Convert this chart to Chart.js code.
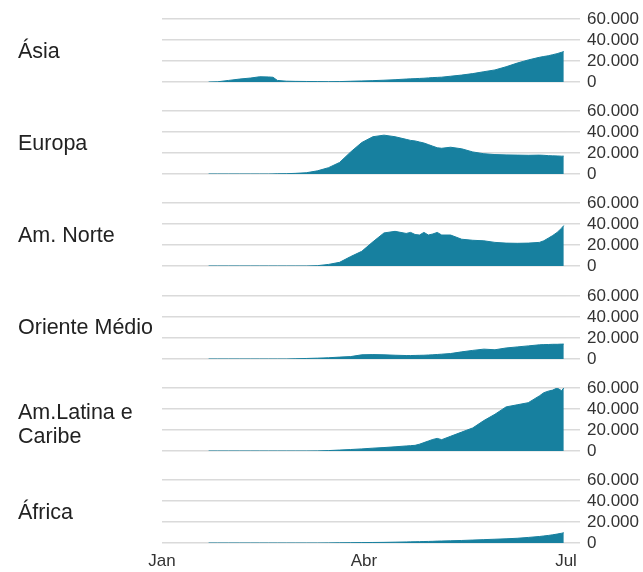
<!DOCTYPE html>
<html>
<head>
<meta charset="utf-8">
<script src="https://cdn.jsdelivr.net/npm/chart.js@4"></script>
<style>
  html, body { margin: 0; padding: 0; background: #fff; }
  body { width: 643px; height: 572px; position: relative; overflow: hidden;
         font-family: "Liberation Sans", Arial, Helvetica, sans-serif; }
  canvas { position: absolute; left: 0; }
  .lbl { position: absolute; left: 18px; font-size: 21.5px; line-height: 24px; color: #222; }
</style>
</head>
<body>
<script>
// day of year (0 = 1 Jan) for each sample
var days = [21, 25, 30, 35, 40, 44, 48, 50, 52, 56,
            60, 65, 70, 75, 80, 85, 90, 95, 100, 105,
            110, 112, 114, 116, 118, 120, 122, 124, 126, 130,
            135, 140, 145, 150, 155, 160, 165, 170, 172, 174,
            176, 178, 180, 181];

// new cases per day, in thousands
var asia = [0, 0.2, 1.5, 2.8, 3.8, 5, 4.8, 4.5, 1.5, 0.8,
            0.6, 0.5, 0.4, 0.3, 0.4, 0.7, 1.0, 1.3, 1.7, 2.2,
            2.8, 3.0, 3.2, 3.4, 3.6, 3.9, 4.2, 4.4, 4.6, 5.5,
            6.6, 8, 9.8, 11.5, 14.5, 18, 21, 23.5, 24.3, 25,
            26, 27, 28.3, 29];
var europa = [0, 0, 0, 0, 0, 0, 0, 0.1, 0.2, 0.3,
              0.6, 1.2, 3, 6, 11, 21, 30, 35.5, 37, 35.5,
              33, 32, 31.5, 30.5, 29.5, 28, 26.5, 25, 24.5, 25.5,
              24, 21, 19.3, 18.5, 18.2, 18, 17.8, 18, 17.8, 17.5,
              17.3, 17.2, 17, 17];
var amNorte = [0, 0, 0, 0, 0, 0, 0, 0, 0, 0,
               0, 0, 0.3, 1.5, 3.5, 9, 14, 23, 31.5, 33,
               31, 32, 30, 29.5, 32, 29.5, 30.5, 32, 29.5, 29.5,
               25.5, 24.5, 24, 22.5, 21.8, 21.6, 21.8, 22.5, 24, 26.5,
               29, 32, 36, 38.5];
var orienteMedio = [0, 0, 0, 0, 0, 0, 0, 0, 0, 0,
                    0.2, 0.5, 0.8, 1.2, 1.8, 2.3, 4, 4.2, 4, 3.6,
                    3.3, 3.3, 3.4, 3.5, 3.6, 3.8, 4, 4.3, 4.6, 5.2,
                    6.8, 8.2, 9.4, 8.8, 10.5, 11.5, 12.5, 13.5, 13.7, 13.8,
                    14, 14, 14.2, 14.2];
var amLatina = [0, 0, 0, 0, 0, 0, 0, 0, 0, 0,
                0, 0, 0.1, 0.4, 0.9, 1.4, 2, 2.7, 3.3, 4,
                4.8, 5.1, 5.4, 6.5, 8, 9.5, 11, 12, 10.8, 14,
                18, 22, 29, 35, 42, 44, 46, 52.5, 55.5, 57,
                58, 60, 57.5, 60];
var africa = [0, 0, 0, 0, 0, 0, 0, 0, 0, 0,
              0, 0, 0, 0.1, 0.2, 0.3, 0.4, 0.5, 0.6, 0.8,
              1, 1.1, 1.2, 1.3, 1.4, 1.5, 1.6, 1.8, 1.9, 2.1,
              2.4, 2.8, 3.2, 3.6, 4, 4.5, 5.3, 6.2, 6.7, 7.2,
              7.8, 8.5, 9.3, 9.8];

var regions = ['Ásia', 'Europa', 'Am. Norte', 'Oriente Médio', 'Am.Latina e\nCaribe', 'África'];
var series = [asia, europa, amNorte, orienteMedio, amLatina, africa];
var yTicks = [0, 20, 40, 60];
var xTicks = [0, 91, 182];
var xLabels = ['Jan', 'Abr', 'Jul'];

var FONT = '"Liberation Sans", Arial, Helvetica, sans-serif';
var TEAL = '#17809f';

function toPoints(vals) {
  var pts = [];
  for (var i = 0; i < days.length; i++) {
    pts.push({x: days[i], y: vals[i]});
  }
  return pts;
}

function fmtTick(v) {
  return v == 0 ? '0' : v + '.000';
}

function makePanel(i) {
  var top = 19 + i * 92.2;      // y of the 60.000 grid line
  var last = i == regions.length - 1;
  var c = document.createElement('canvas');
  var h = last ? 12 + 63 + 29 : 87;
  c.width = 643;
  c.height = h;
  c.style.top = Math.round(top - 12) + 'px';
  document.body.appendChild(c);

  var lbl = document.createElement('div');
  lbl.className = 'lbl';
  var lines = regions[i].split('\n');
  lbl.innerHTML = lines.join('<br>');
  var mid = top + 31.5 + (lines.length > 1 ? 5 : 0);
  lbl.style.top = Math.round(mid - lines.length * 12) + 'px';
  document.body.appendChild(lbl);

  new Chart(c, {
    type: 'line',
    data: {
      datasets: [{
        data: toPoints(series[i]),
        borderColor: TEAL,
        borderWidth: 1,
        backgroundColor: TEAL,
        fill: 'origin',
        pointRadius: 0,
        tension: 0
      }]
    },
    options: {
      responsive: false,
      animation: false,
      devicePixelRatio: 1,
      layout: {padding: {left: 162, top: 12, right: 0, bottom: last ? 0 : 12}},
      plugins: {legend: {display: false}, tooltip: {enabled: false}},
      scales: {
        x: {
          type: 'linear',
          min: 0,
          max: 182,
          display: last,
          border: {display: false},
          grid: {display: false, drawTicks: false},
          afterBuildTicks: function(s) {
            s.ticks = xTicks.map(function(v) { return {value: v}; });
          },
          afterFit: function(s) {
            if (last) s.height = 29;
            s.paddingLeft = 0;
            s.paddingRight = 0;
          },
          ticks: {
            padding: 8,
            maxRotation: 0,
            autoSkip: false,
            color: '#333',
            font: {family: FONT, size: 17},
            callback: function(v) { return xLabels[xTicks.indexOf(v)]; }
          }
        },
        y: {
          position: 'right',
          min: 0,
          max: 60,
          border: {display: false},
          grid: {color: '#dadada', lineWidth: 1.5, tickLength: 14},
          afterBuildTicks: function(s) {
            s.ticks = yTicks.map(function(v) { return {value: v}; });
          },
          afterFit: function(s) {
            s.width = 77;
            s.paddingTop = 0;
            s.paddingBottom = 0;
          },
          ticks: {
            padding: 7,
            autoSkip: false,
            color: '#333',
            font: {family: FONT, size: 17},
            callback: fmtTick
          }
        }
      }
    }
  });
}

for (var i = 0; i < regions.length; i++) {
  makePanel(i);
}
</script>
</body>
</html>
